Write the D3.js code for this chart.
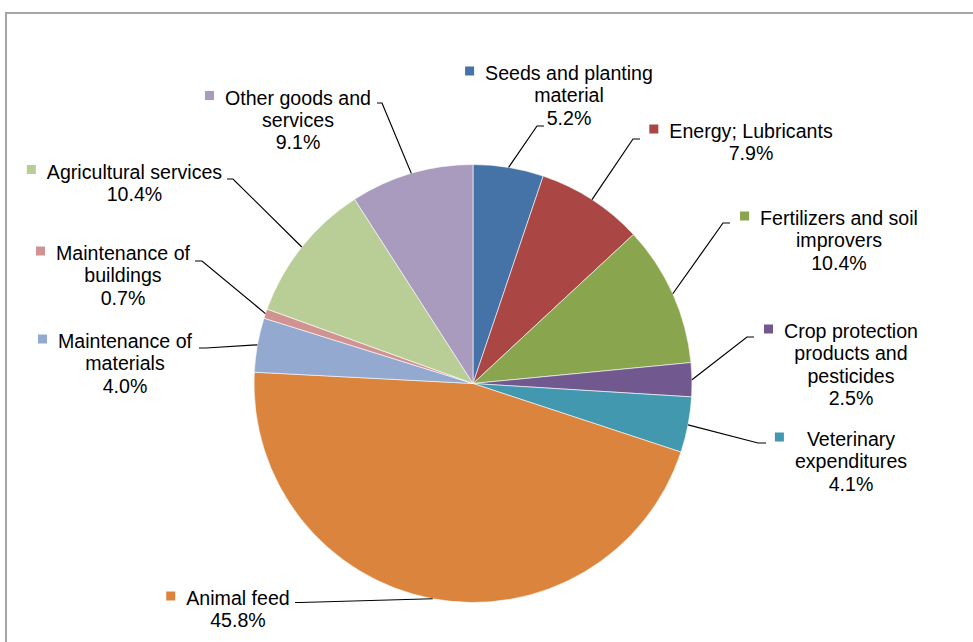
<!DOCTYPE html>
<html>
<head>
<meta charset="utf-8">
<script src="https://cdn.jsdelivr.net/npm/d3@7"></script>
<style>
  body { margin: 0; background: #fff; }
  text { font-family: "Liberation Sans", Arial, sans-serif; fill: #000; }
</style>
</head>
<body>
<div id="chart"></div>
<script>
// Intermediate consumption shares (%)
const categories = [
  'Seeds and planting material', 'Energy; Lubricants', 'Fertilizers and soil improvers',
  'Crop protection products and pesticides', 'Veterinary expenditures', 'Animal feed',
  'Maintenance of materials', 'Maintenance of buildings', 'Agricultural services',
  'Other goods and services'
];
const values = [5.2, 7.9, 10.4, 2.5, 4.1, 45.8, 4.0, 0.7, 10.4, 9.1];
const colors = ['#4572A7', '#AA4643', '#89A54E', '#71588F', '#4198AF',
                '#DB843D', '#93A9CF', '#D19392', '#B9CD96', '#A99BBD'];

// label placement (wrapped lines, text centre, first baseline, leader elbow/end)
const labelLayout = [
  { lines: ['Seeds and planting', 'material'], cx: 569, y: 80, elbow: [537, 126], end: [544, 126] },
  { lines: ['Energy; Lubricants'], cx: 751, y: 138, elbow: [633, 139], end: [640, 139] },
  { lines: ['Fertilizers and soil', 'improvers'], cx: 839, y: 225, elbow: [723, 223], end: [730, 223] },
  { lines: ['Crop protection', 'products and', 'pesticides'], cx: 851, y: 338, elbow: [747, 337], end: [754, 337] },
  { lines: ['Veterinary', 'expenditures'], cx: 851, y: 446, elbow: [758, 443], end: [766, 443] },
  { lines: ['Animal feed'], cx: 238, y: 605, elbow: [300, 602.5], end: [295, 602.5] },
  { lines: ['Maintenance of', 'materials'], cx: 125, y: 348, elbow: [206, 348], end: [199, 348] },
  { lines: ['Maintenance of', 'buildings'], cx: 123, y: 260, elbow: [202, 261], end: [195, 261] },
  { lines: ['Agricultural services'], cx: 134.5, y: 178.5, elbow: [233, 179], end: [227, 179] },
  { lines: ['Other goods and', 'services'], cx: 298, y: 104.5, elbow: [382, 103], end: [377, 103] }
];

const width = 973, height = 642;
const cx = 473, cy = 383.5, radius = 219;
const fontSize = 19.6, lineHeight = 22.4, keySize = 9, keyGap = 11;

const svg = d3.select('#chart').append('svg')
  .attr('width', width)
  .attr('height', height);

// chart frame (only top and left edges are inside the window)
svg.append('rect')
  .attr('x', 6).attr('y', 13)
  .attr('width', 1200).attr('height', 900)
  .attr('fill', 'none')
  .attr('stroke', '#a6a6a6')
  .attr('stroke-width', 2);

const pie = d3.pie().sort(null).value(d => d);
const arcs = pie(values);
const arc = d3.arc().innerRadius(0).outerRadius(radius);
const edge = d3.arc().innerRadius(radius).outerRadius(radius);

const g = svg.append('g').attr('transform', `translate(${cx},${cy})`);

g.selectAll('path.slice')
  .data(arcs)
  .enter()
  .append('path')
  .attr('class', 'slice')
  .attr('d', arc)
  .attr('fill', (d, i) => colors[i])
  .attr('stroke', '#ffffff')
  .attr('stroke-width', 0.6);

// leader lines
svg.selectAll('path.leader')
  .data(arcs)
  .enter()
  .append('path')
  .attr('class', 'leader')
  .attr('fill', 'none')
  .attr('stroke', '#000')
  .attr('stroke-width', 1.2)
  .attr('d', (d, i) => {
    const p = edge.centroid(d);
    const L = labelLayout[i];
    return d3.line()([[p[0] + cx, p[1] + cy], L.elbow, L.end]);
  });

// labels
const fmt = d3.format('.1f');
arcs.forEach((d, i) => {
  const L = labelLayout[i];
  const lines = L.lines.concat([fmt(values[i]) + '%']);
  const lg = svg.append('g').attr('class', 'label');
  const texts = lines.map((t, k) => lg.append('text')
    .attr('x', L.cx)
    .attr('y', L.y + k * lineHeight)
    .attr('text-anchor', 'middle')
    .attr('font-size', fontSize)
    .text(t));
  const widest = d3.max(texts, t => t.node().getComputedTextLength());
  lg.append('rect')
    .attr('x', L.cx - widest / 2 - keyGap - keySize)
    .attr('y', L.y - 13.5)
    .attr('width', keySize)
    .attr('height', keySize)
    .attr('fill', colors[i]);
});
</script>
</body>
</html>
